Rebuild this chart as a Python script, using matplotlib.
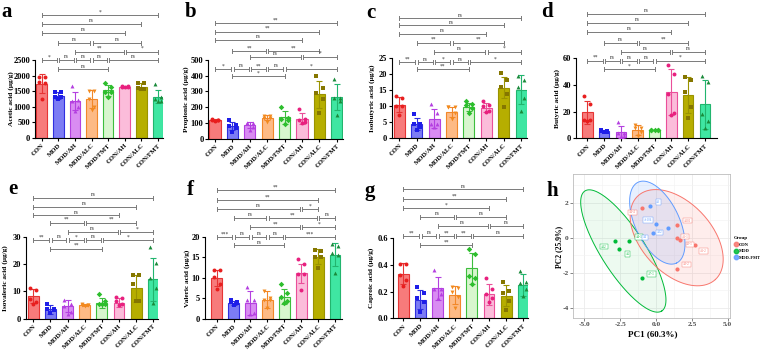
import numpy as np
import matplotlib
matplotlib.use("Agg")
import matplotlib.pyplot as plt
from matplotlib.lines import Line2D

plt.rcParams['font.family'] = ['Liberation Serif', 'DejaVu Serif']

W, H = 767, 352
fig = plt.figure(figsize=(W / 100, H / 100), dpi=100)

# ---------------- data ----------------
groups = ["CON", "MOD", "MOD/AH", "MOD/ALC", "MOD/FMT", "CON/AH", "CON/ALC", "CON/FMT"]

acetic_mean = [1740, 1350, 1190, 1240, 1530, 1650, 1650, 1330]
acetic_sd = [300, 110, 300, 290, 180, 25, 100, 220]
acetic_pts = [[1964, 1964, 1781, 1749, 1234], [1480, 1470, 1330, 1300, 1250],
              [1663, 1212, 1191, 1009, 869], [1513, 1513, 1266, 998, 891],
              [1770, 1640, 1480, 1480, 1300], [1680, 1665, 1650, 1640, 1620],
              [1760, 1750, 1590, 1580, 1560], [1720, 1300, 1250, 1200, 1170]]

propionic_mean = [118, 79, 85, 131, 134, 125, 283, 265]
propionic_sd = [5, 27, 21, 16, 41, 35, 86, 85]
propionic_pts = [[125, 120, 118, 115, 112], [118, 85, 80, 70, 42], [101, 101, 98, 74, 52],
                 [145, 143, 132, 128, 105], [202, 130, 126, 120, 90], [185, 122, 118, 105, 97],
                 [400, 320, 290, 250, 165], [382, 260, 255, 240, 150]]

isobutyric_mean = [10.5, 4.4, 6.1, 8.2, 9.8, 9.5, 15.8, 15.2]
isobutyric_sd = [2.4, 1.8, 3.0, 1.6, 1.3, 1.5, 3.2, 4.6]
isobutyric_pts = [[13.2, 12.6, 10.0, 10.0, 7.1], [7.5, 4.3, 4.3, 3.3, 2.6], [10.6, 7.7, 4.5, 4.3, 3.3],
                  [9.6, 9.6, 9.6, 7.7, 5.9], [11.5, 10.6, 10.2, 9.3, 7.8], [11.6, 10.3, 10.0, 8.5, 8.2],
                  [20.5, 18.2, 15.9, 13.8, 9.6], [19.6, 18.2, 15.9, 12.7, 8.5]]

butyric_mean = [19.5, 5.4, 4.5, 6.3, 6.3, 34.5, 32.5, 25.5]
butyric_sd = [8.7, 0.6, 4.6, 3.7, 0.3, 17.2, 13.3, 18.2]
butyric_pts = [[31.8, 25.8, 13.8, 13.8, 13.3], [6.0, 5.6, 5.4, 5.0, 4.8], [12.0, 4.3, 4.0, 2.0, 1.8],
               [10.0, 8.0, 7.8, 4.5, 2.0], [6.5, 6.4, 6.3, 6.2, 6.1], [55.0, 48.3, 33.3, 19.3, 17.5],
               [45.8, 43.8, 34.5, 23.8, 15.3], [47.0, 42.0, 18.3, 13.3, 7.5]]

isovaleric_mean = [8.3, 3.4, 4.7, 5.0, 5.9, 5.9, 11.1, 14.4]
isovaleric_sd = [2.5, 1.6, 2.2, 0.5, 1.8, 1.6, 4.9, 8.0]
isovaleric_pts = [[11.4, 10.5, 7.1, 6.1, 5.5], [5.3, 3.7, 3.4, 3.2, 2.0], [6.8, 5.3, 4.7, 2.6, 1.8],
                  [5.5, 5.2, 5.0, 4.9, 4.5], [8.9, 6.5, 5.5, 5.5, 5.4], [8.1, 7.7, 6.5, 5.3, 5.0],
                  [16.0, 16.0, 12.6, 6.5, 6.5], [26.3, 20.3, 15.1, 11.4, 5.9]]

valeric_mean = [10.0, 3.9, 3.9, 4.7, 5.4, 11.1, 15.2, 15.7]
valeric_sd = [1.9, 0.5, 2.9, 2.1, 1.8, 2.4, 1.9, 2.9]
valeric_pts = [[11.9, 11.9, 10.2, 8.4, 7.2], [4.6, 4.2, 4.0, 3.8, 3.4], [7.8, 4.7, 4.6, 1.3, 1.1],
               [6.8, 5.0, 4.7, 4.6, 2.5], [8.4, 6.4, 5.4, 4.3, 3.9], [14.5, 13.5, 11.0, 10.9, 7.0],
               [16.8, 16.6, 15.2, 15.2, 12.5], [18.2, 17.9, 16.2, 15.5, 11.3]]

caproic_mean = [0.335, 0.14, 0.225, 0.175, 0.375, 0.18, 0.17, 0.25]
caproic_sd = [0.078, 0.07, 0.085, 0.065, 0.115, 0.08, 0.08, 0.08]
caproic_pts = [[0.41, 0.41, 0.325, 0.29, 0.24], [0.235, 0.19, 0.15, 0.12, 0.05],
               [0.36, 0.22, 0.22, 0.18, 0.15], [0.235, 0.23, 0.20, 0.16, 0.08],
               [0.52, 0.48, 0.32, 0.30, 0.255], [0.30, 0.22, 0.18, 0.15, 0.12],
               [0.27, 0.205, 0.19, 0.13, 0.06], [0.355, 0.27, 0.265, 0.22, 0.165]]

# significance comparisons: (row, group i, group j)
pairs = [(0, 0, 7), (1, 0, 6), (2, 0, 5), (3, 1, 3), (3, 3, 6), (4, 2, 5), (4, 5, 7),
         (5, 0, 1), (5, 1, 2), (5, 2, 3), (5, 3, 4), (5, 4, 7), (6, 1, 4)]
sig_a = ["*", "ns", "ns", "ns", "ns", "**", "*", "*", "ns", "ns", "ns", "ns", "ns"]
sig_b = ["**", "**", "ns", "**", "**", "ns", "*", "*", "ns", "**", "ns", "*", "*"]
sig_c = ["ns", "ns", "ns", "**", "**", "ns", "*", "**", "ns", "*", "ns", "*", "**"]
sig_d = ["ns", "ns", "ns", "ns", "**", "ns", "ns", "**", "ns", "ns", "ns", "*", "*"]
sig_e = ["ns", "ns", "ns", "**", "**", "ns", "*", "**", "ns", "*", "ns", "*", "**"]
sig_f = ["**", "**", "ns", "ns", "**", "**", "*", "***", "ns", "ns", "ns", "***", "ns"]
sig_g = ["ns", "**", "*", "ns", "ns", "ns", "ns", "**", "ns", "**", "**", "ns", "**"]
extra_f = [(2, 5, 6, "*"), (3, 6, 7, "ns")]

# PCA data (panel h)
pca_groups = ["CON", "MOD", "MOD-FMT"]
con_pc1 = [-0.95, 1.44, 1.44, 1.68, 2.72, 1.44]
con_pc2 = [1.68, 0.74, -0.02, -0.15, -0.44, -1.77]
con_lab = ["A4-4", "A001", "A1-1", "A3-1", "A1-2", "A3-2"]
mod_pc1 = [-2.86, -1.86, -2.56, -1.00]
mod_pc2 = [-0.19, -0.21, -0.63, -2.32]
mod_lab = ["A02", "A4-1", "A5", "A7-1"]
fmt_pc1 = [-0.42, 0.0, 0.81, -0.19]
fmt_pc2 = [1.81, 0.76, 0.54, 0.25]
fmt_lab = ["A3", "A-104", "A32", "A4"]
# ellipses: centre, two conjugate semi-axis vectors (PC units)
ell_con = [(1.44, 0.0), (2.70, -2.39), (1.80, 1.36)]
ell_mod = [(-2.28, -0.76), (2.68, -3.43), (1.29, 0.68)]
ell_fmt = [(0.09, 0.86), (1.34, -2.31), (1.39, 0.54)]

# ---------------- style ----------------
fills = ['#F77B7B', '#7C7CF4', '#D98CF2', '#FDBA85', '#D8F6CE', '#FBBCDA', '#B6AE00', '#3FE6A2']
edges = ['#E63535', '#2F2FE0', '#B440E0', '#F2882A', '#3DBE3D', '#EA4F9A', '#9A9300', '#22B56E']
pcols = ['#E81E1E', '#1E1EE8', '#B43FE0', '#F28A1E', '#2DBE2D', '#E8207E', '#857600', '#1A8A3A']
marks = ['o', 's', '^', 'v', 'D', 'o', 's', '^']
jit = [-0.18, 0.18, -0.18, 0.18, 0.0]


def add_px_axes(left, right, top, bottom):
    return fig.add_axes([left / W, 1 - bottom / H, (right - left) / W, (bottom - top) / H])


def bar_panel(L, letter, ylabel, means, sds, pts, sigs, extra=()):
    top = L['top']
    ax = add_px_axes(L['left'], L['right'], top, L['zero'])
    ymax = L['ytv'] * (L['zero'] - top) / (L['zero'] - L['ytp'])
    ax.set_ylim(0, ymax)
    xl = -(L['c0'] - L['left']) / L['sp']
    xr = (L['right'] - L['c0']) / L['sp']
    ax.set_xlim(xl, xr)
    x = np.arange(len(groups))
    ax.bar(x, means, width=0.64, color=fills, edgecolor=edges, linewidth=0.8, zorder=2)
    for i in range(len(groups)):
        ax.errorbar(i, means[i], yerr=sds[i], fmt='none', ecolor=edges[i],
                    elinewidth=0.8, capsize=2.2, capthick=0.8, zorder=3)
        p = pts[i]
        ax.scatter(i + np.array(jit[:len(p)]), p, marker=marks[i], s=8,
                   color=pcols[i], linewidths=0, zorder=4)
    for s in ['top', 'right']:
        ax.spines[s].set_visible(False)
    for s in ['left', 'bottom']:
        ax.spines[s].set_linewidth(0.8)
    ax.spines['left'].set_bounds(0, L['ytv'])
    ticks = np.arange(0, L['ytv'] + L['step'] / 2, L['step'])
    ax.set_yticks(ticks)
    ax.set_yticklabels([L['fmt'].format(t) for t in ticks], fontsize=6, fontweight='bold')
    ax.set_xticks(x)
    ax.set_xticklabels(groups, rotation=45, ha='right', rotation_mode='anchor',
                       fontsize=4.8, fontweight='bold')
    ax.tick_params(axis='both', length=2, width=0.8, pad=1.5)
    ax.patch.set_alpha(0)

    # significance brackets
    hpx = L['zero'] - top
    dy = ymax / hpx  # data units per pixel
    allp = [(r, i, j, s) for (r, i, j), s in zip(pairs, sigs)] + list(extra)
    for (r, i, j, s) in allp:
        y = L['rows'][r]
        share_i = any((rr == r and (jj == i or ii == i) and (ii, jj) != (i, j)) for rr, ii, jj, _ in allp)
        share_j = any((rr == r and (ii == j or jj == j) and (ii, jj) != (i, j)) for rr, ii, jj, _ in allp)
        x1 = i + (0.07 if share_i else 0)
        x2 = j - (0.07 if share_j else 0)
        c = '#7a7a7a'
        ax.plot([x1, x2], [y, y], color=c, lw=0.7, clip_on=False, zorder=5)
        for xe in (x1, x2):
            ax.plot([xe, xe], [y - 2.0 * dy, y + 2.0 * dy], color=c, lw=0.7, clip_on=False, zorder=5)
        ax.text((x1 + x2) / 2, y + 0.6 * dy, s, fontsize=4, ha='center', va='bottom',
                color='#333333', zorder=6)

    fig.text(L['ylx'] / W, 1 - ((L['zero'] + L['ytp']) / 2) / H, ylabel, rotation=90,
             ha='center', va='center', fontsize=5.3, fontweight='bold')
    fig.text(L['lx'] / W, 1 - L['ly'] / H, letter, ha='center', va='center',
             fontsize=15, fontweight='bold')
    return ax


top_row = 6
bot_row = 184
LA = dict(left=35, right=163, c0=41.7, sp=16.6, zero=138, ytp=60, ytv=2500, step=500, fmt='{:.0f}',
          top=top_row, rows=[3948, 3669, 3379, 3057, 2767, 2500, 2200], ylx=11, lx=7, ly=12)
LB = dict(left=208.3, right=342.7, c0=215, sp=17.4, zero=138.5, ytp=60, ytv=500, step=100, fmt='{:.0f}',
          top=top_row, rows=[737, 681, 630, 557, 521, 443, 395], ylx=186, lx=191, ly=12)
LC = dict(left=391.7, right=527, c0=399.3, sp=17.4, zero=138, ytp=58.3, ytv=25, step=5, fmt='{:.0f}',
          top=top_row, rows=[37.6, 35.3, 32.6, 29.9, 27.1, 23.7, 21.5], ylx=372, lx=371, ly=13)
LD = dict(left=576, right=716.7, c0=587.3, sp=16.8, zero=138.3, ytp=58.3, ytv=60, step=20, fmt='{:.0f}',
          top=top_row, rows=[93.25, 86.5, 80, 71.75, 65, 58.25, 51.75], ylx=557, lx=547, ly=12)
LE = dict(left=26, right=158.3, c0=33.3, sp=17.14, zero=318.7, ytp=237, ytv=30, step=10, fmt='{:.0f}',
          top=bot_row, rows=[44.4, 41.1, 37.9, 35.3, 31.8, 28.9, 25.7], ylx=5, lx=13, ly=189)
LF = dict(left=205, right=341.7, c0=216.7, sp=16.9, zero=318.7, ytp=237, ytv=20, step=5, fmt='{:.0f}',
          top=bot_row, rows=[31.4, 29.0, 26.9, 24.7, 22.5, 20.0, 17.95], ylx=187, lx=190, ly=190)
LG = dict(left=392.7, right=528.3, c0=403.3, sp=17.14, zero=318.3, ytp=238.3, ytv=0.6, step=0.2,
          fmt='{:.1f}', top=bot_row, rows=[0.9675, 0.8925, 0.825, 0.76, 0.6925, 0.6175, 0.55],
          ylx=371, lx=370, ly=191)

bar_panel(LA, 'a', 'Acetic acid (μg/g)', acetic_mean, acetic_sd, acetic_pts, sig_a)
bar_panel(LB, 'b', 'Propionic acid (μg/g)', propionic_mean, propionic_sd, propionic_pts, sig_b)
bar_panel(LC, 'c', 'Isobutyric acid (μg/g)', isobutyric_mean, isobutyric_sd, isobutyric_pts, sig_c)
bar_panel(LD, 'd', 'Butyric acid (μg/g)', butyric_mean, butyric_sd, butyric_pts, sig_d)
bar_panel(LE, 'e', 'Isovaleric acid (μg/g)', isovaleric_mean, isovaleric_sd, isovaleric_pts, sig_e)
bar_panel(LF, 'f', 'Valeric acid (μg/g)', valeric_mean, valeric_sd, valeric_pts, sig_f, extra_f)
bar_panel(LG, 'g', 'Caproic acid (μg/g)', caproic_mean, caproic_sd, caproic_pts, sig_g)

# ---------------- panel h : PCA ----------------
axh = add_px_axes(573, 730, 174, 318)
axh.set_xlim(-5.79, 5.16)
axh.set_ylim(-4.59, 3.64)
axh.set_xticks([-5, -2.5, 0, 2.5, 5])
axh.set_xticklabels(['-5.0', '-2.5', '0.0', '2.5', '5.0'], fontsize=5.3, fontweight='bold', color='#4d4d4d')
axh.set_yticks([-4, -2, 0, 2])
axh.set_yticklabels(['-4', '-2', '0', '2'], fontsize=5.3, fontweight='bold', color='#4d4d4d')
axh.set_xticks([-3.75, -1.25, 1.25, 3.75], minor=True)
axh.set_yticks([-3, -1, 1, 3], minor=True)
axh.grid(True, which='major', color='#EBEBEB', lw=0.6)
axh.grid(True, which='minor', color='#F2F2F2', lw=0.4)
axh.set_axisbelow(True)
axh.tick_params(axis='both', which='major', length=2, width=0.5, color='#555555', pad=1.2)
axh.tick_params(axis='both', which='minor', length=0)
for s in axh.spines.values():
    s.set_color('#BDBDBD')
    s.set_linewidth(0.6)

pca_cols = ['#F8766D', '#00BA38', '#619CFF']
t = np.linspace(0, 2 * np.pi, 200)
for ell, col, a in zip([ell_mod, ell_con, ell_fmt], [pca_cols[1], pca_cols[0], pca_cols[2]], [0.07, 0.13, 0.15]):
    (cx, cy), (ux, uy), (vx, vy) = ell
    ex = cx + ux * np.cos(t) + vx * np.sin(t)
    ey = cy + uy * np.cos(t) + vy * np.sin(t)
    axh.fill(ex, ey, color=col, alpha=a, lw=0, zorder=1)
    axh.plot(ex, ey, color=col, lw=0.7, zorder=2)

lab_off = {
    'CON': [(-7, -3), (8, 3), (6, 1), (7, -3), (6, -4), (7, 3)],
    'MOD': [(-8, -4), (7, 3), (6, -4), (7, 3)],
    'MOD-FMT': [(6, 3), (-6, 3), (-6, -3), (-6, -3)],
}
for name, xs, ys, labs, col in [('CON', con_pc1, con_pc2, con_lab, pca_cols[0]),
                                ('MOD', mod_pc1, mod_pc2, mod_lab, pca_cols[1]),
                                ('MOD-FMT', fmt_pc1, fmt_pc2, fmt_lab, pca_cols[2])]:
    axh.scatter(xs, ys, s=9, color=col, linewidths=0, zorder=4)
    for (xx, yy, lb, off) in zip(xs, ys, labs, lab_off[name]):
        axh.annotate(lb, (xx, yy), xytext=off, textcoords='offset points', fontsize=2.3,
                     color=col, ha='center', va='center', zorder=5,
                     bbox=dict(boxstyle='square,pad=0.25', fc='white', ec=col, lw=0.3))

fig.text(653 / W, 1 - 334 / H, 'PC1 (60.3%)', ha='center', va='center', fontsize=6.5, fontweight='bold')
fig.text(559 / W, 1 - 247 / H, 'PC2 (25.9%)', ha='center', va='center', rotation=90, fontsize=5.5,
         fontweight='bold')
fig.text(552 / W, 1 - 191 / H, 'h', ha='center', va='center', fontsize=15, fontweight='bold')

handles = [Line2D([], [], marker='o', ls='none', markersize=3.2, markerfacecolor=c,
                  markeredgecolor=c, alpha=0.85) for c in pca_cols]
leg = fig.legend(handles, pca_groups, title='Group', loc='upper left',
                 bbox_to_anchor=(734 / W, 1 - 236 / H), frameon=False, fontsize=3.2,
                 title_fontsize=3.6, handletextpad=0.1, labelspacing=0.55, borderpad=0,
                 handlelength=0.9, borderaxespad=0)
leg._legend_box.align = 'left'
for txt in leg.get_texts():
    txt.set_fontweight('bold')
leg.get_title().set_fontweight('bold')

fig.savefig('out.png', dpi=100)
